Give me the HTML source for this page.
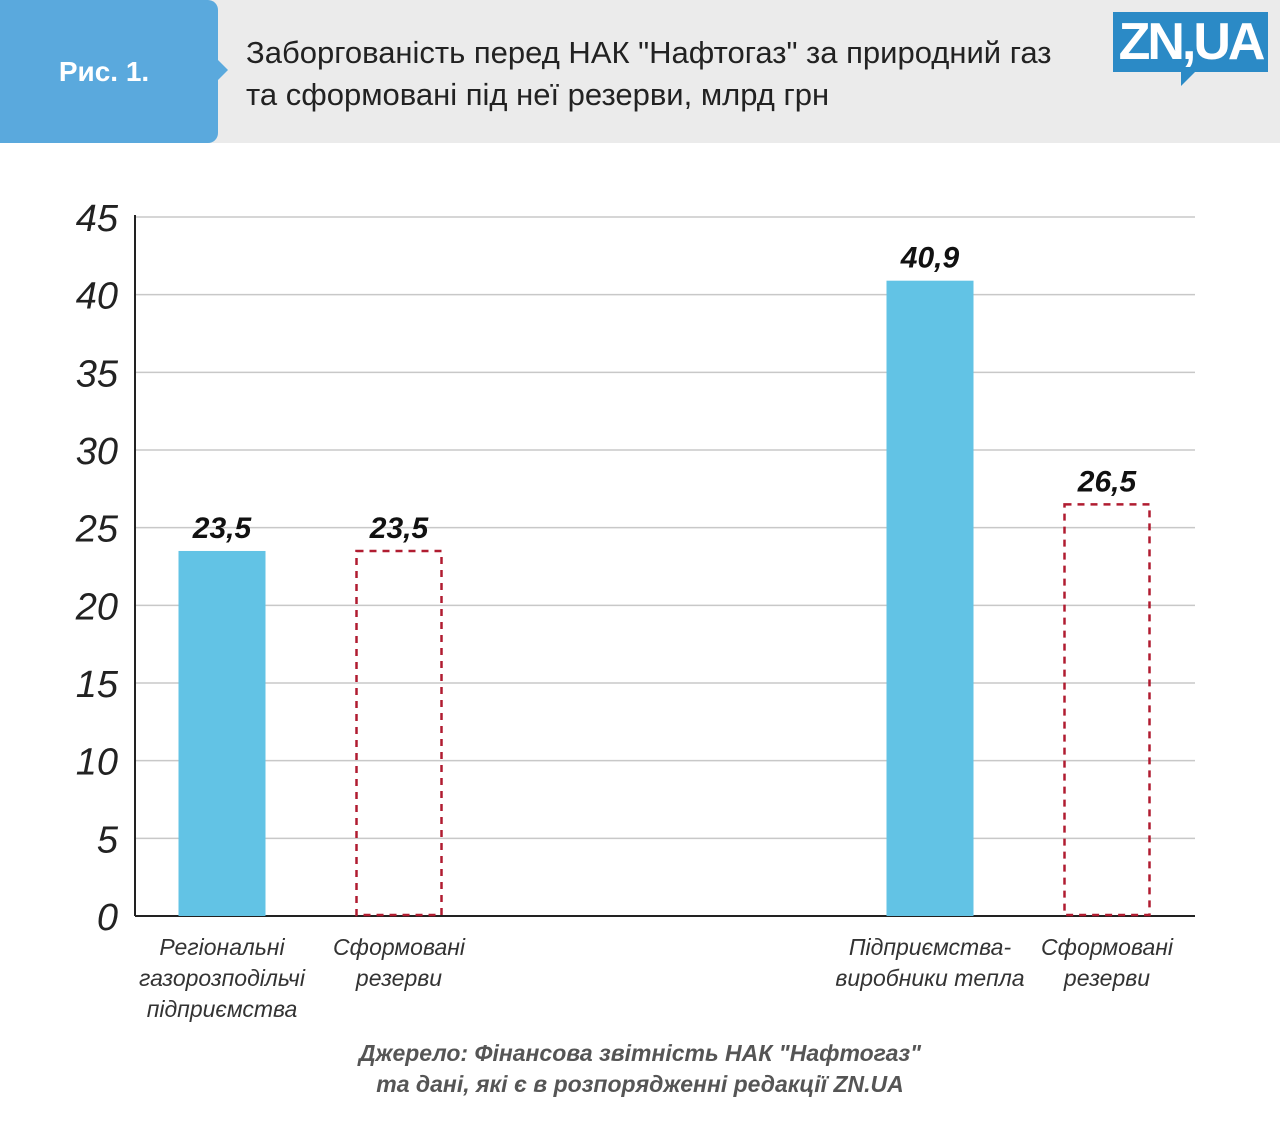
<!DOCTYPE html>
<html><head><meta charset="utf-8"><style>
body{margin:0;width:1280px;height:1124px;background:#fff;font-family:"Liberation Sans","DejaVu Sans",sans-serif;position:relative;overflow:hidden}
.hdr{position:absolute;left:0;top:0;width:1280px;height:143px;background:#ebebeb}
.fig{position:absolute;left:0;top:0;width:218px;height:143px;background:#5aa9dd;border-radius:0 10px 10px 0;color:#fff;font-weight:bold;font-size:28px;line-height:143px;text-align:center;box-sizing:border-box;padding-right:10px}
.fig:after{content:"";position:absolute;right:-10px;top:60px;border-left:10px solid #5aa9dd;border-top:10px solid transparent;border-bottom:10px solid transparent}
.title{position:absolute;left:246px;top:32px;font-size:31px;line-height:42px;color:#222;white-space:nowrap}
.logo{position:absolute;left:1113px;top:12px;width:155px;height:60px;background:#2b8ac6;color:#fff;font-weight:bold;font-size:52px;line-height:60px;text-align:center;letter-spacing:-3px}
.logo:after{content:"";position:absolute;left:68px;top:60px;border-top:14px solid #2b8ac6;border-right:14px solid transparent}
.src{position:absolute;left:0;width:1280px;top:1038px;text-align:center;font-style:italic;font-weight:bold;font-size:23px;line-height:31px;color:#555}
</style></head><body>
<div class="hdr"></div>
<div class="fig">Рис. 1.</div>
<div class="title">Заборгованість перед НАК "Нафтогаз" за природний газ<br>та сформовані під неї резерви, млрд грн</div>
<div class="logo">ZN,UA</div>
<svg id="chart" width="1280" height="1124" style="position:absolute;left:0;top:0"></svg>
<div class="src">Джерело: Фінансова звітність НАК "Нафтогаз"<br>та дані, які є в розпорядженні редакції ZN.UA</div>
<script>
const categories=[["Регіональні","газорозподільчі","підприємства"],["Сформовані","резерви"],[],[],["Підприємства-","виробники тепла"],["Сформовані","резерви"]];
const values=[23.5,23.5,null,null,40.9,26.5];
const kinds=["debt","reserve","","","debt","reserve"];
const labels=["23,5","23,5","","","40,9","26,5"];
const ticks=[0,5,10,15,20,25,30,35,40,45];
const NS="http://www.w3.org/2000/svg";
const svg=document.getElementById('chart');
const x0=135,x1=1195,yB=916,yT=217,yMax=45,slot0=222,slotW=177,barW=87;
function y(v){return yB-(v/yMax)*(yB-yT);}
function xc(i){return slot0+i*slotW;}
function mk(t,a){const e=document.createElementNS(NS,t);for(const k in a)e.setAttribute(k,a[k]);svg.appendChild(e);return e;}
ticks.forEach(t=>{
  const g=mk('line',{x1:x0,x2:x1,y1:y(t),y2:y(t),stroke:t===0?'#222':'#c8c8c8','stroke-width':t===0?2:1.5});
  
  
  const tx=mk('text',{x:118,y:y(t)+14,'text-anchor':'end','font-size':38,'font-style':'italic',fill:'#222','font-family':'Liberation Sans, sans-serif'});
  tx.textContent=t;
  
  
});
const ax=mk('line',{x1:x0,x2:x0,y1:yT-2,y2:yB,stroke:'#222','stroke-width':2});


values.forEach((v,i)=>{
  if(v!==null){
    const cx=xc(i),top=y(v);
    let r;
    if(kinds[i]==='debt'){r=mk('rect',{x:cx-barW/2,y:top,width:barW,height:yB-top,fill:'#62c3e5'});}
    else{r=mk('rect',{x:cx-barW/2+1,y:top,width:barW-2,height:yB-top-1,fill:'none',stroke:'#b01c30','stroke-width':2.5,'stroke-dasharray':'7,6'});}
    
    
    const l=mk('text',{x:cx,y:top-13,'text-anchor':'middle','font-size':30,'font-weight':'bold','font-style':'italic',fill:'#111','font-family':'Liberation Sans, sans-serif'});
    l.textContent=labels[i];
    
    
  }
  categories[i].forEach((line,j)=>{
    const t=mk('text',{x:xc(i),y:955+j*31,'text-anchor':'middle','font-size':23,'font-style':'italic',fill:'#333','font-family':'Liberation Sans, sans-serif'});
    t.textContent=line;
    
    
  });
});
</script>
</body></html>
